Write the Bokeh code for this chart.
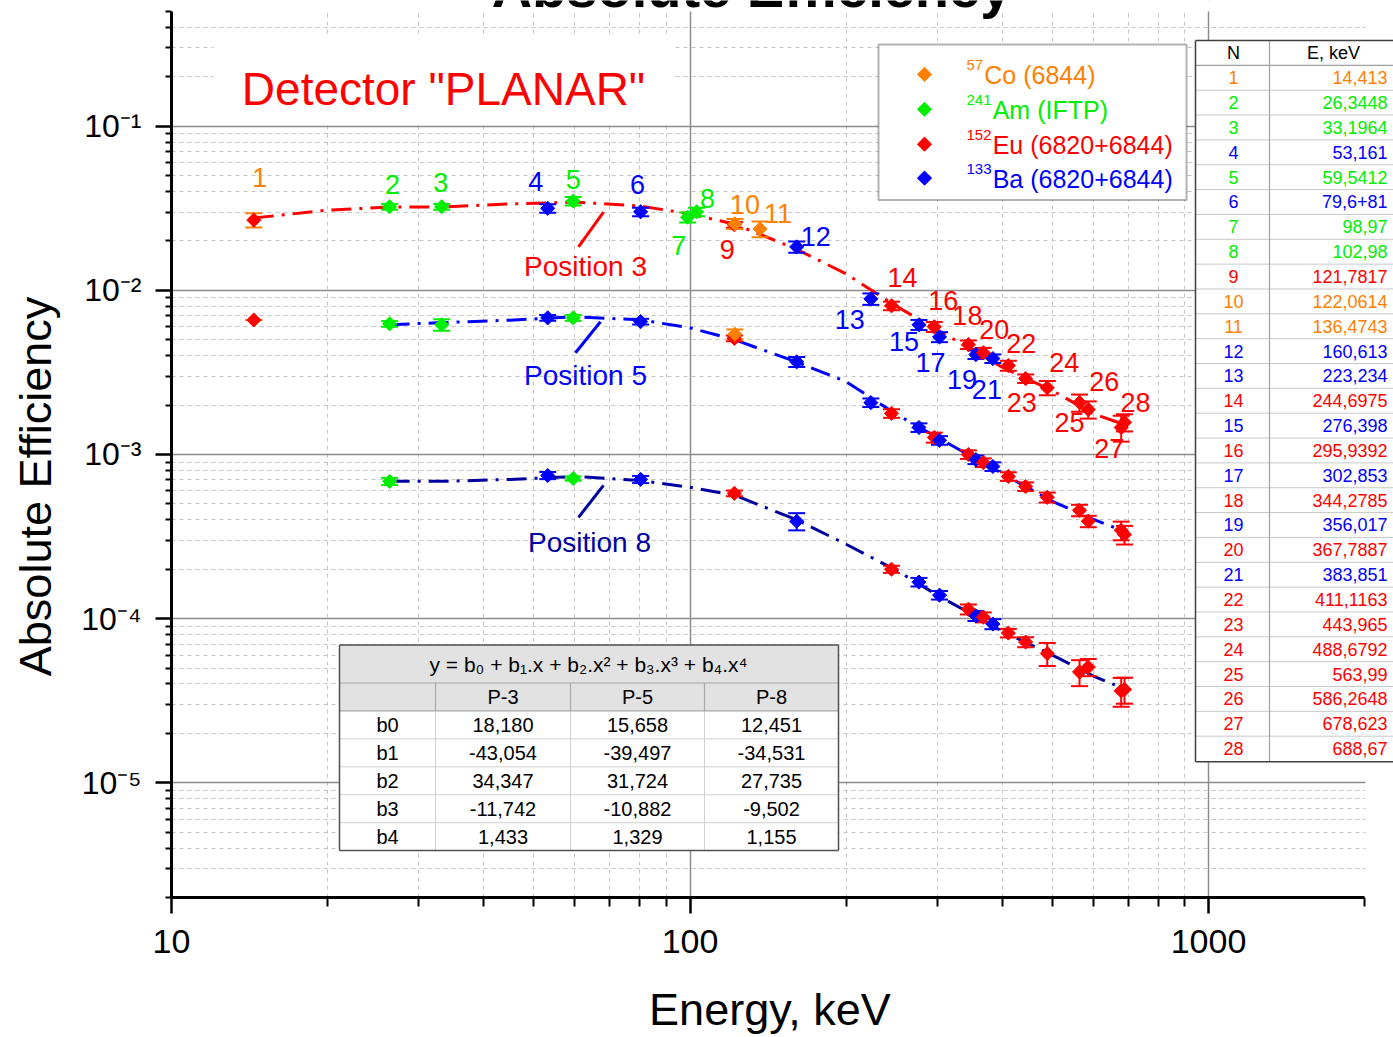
import math
from bokeh.plotting import figure
from bokeh.models import (Range1d, FixedTicker, CustomJSTickFormatter, Label, LabelSet,
                          ColumnDataSource, BoxAnnotation, Arrow)
from bokeh.core.properties import value
from bokeh.embed import file_html
from bokeh.resources import INLINE

# ---------------- data ----------------
point_numbers = [str(i) for i in range(1, 29)]
energies = [14.413, 26.3448, 33.1964, 53.161, 59.5412, 80.3, 98.97, 102.98, 121.7817,
            122.0614, 136.4743, 160.613, 223.234, 244.6975, 276.398, 295.9392, 302.853,
            344.2785, 356.017, 367.7887, 383.851, 411.1163, 443.965, 488.6792, 563.99,
            586.2648, 678.623, 688.67]
energy_text = ["14,413", "26,3448", "33,1964", "53,161", "59,5412", "79,6+81", "98,97",
               "102,98", "121,7817", "122,0614", "136,4743", "160,613", "223,234",
               "244,6975", "276,398", "295,9392", "302,853", "344,2785", "356,017",
               "367,7887", "383,851", "411,1163", "443,965", "488,6792", "563,99",
               "586,2648", "678,623", "688,67"]
sources = ["Co", "Am", "Am", "Ba", "Am", "Ba", "Am", "Am", "Eu", "Co", "Co", "Ba", "Ba", "Eu",
           "Ba", "Eu", "Ba", "Eu", "Ba", "Eu", "Ba", "Eu", "Eu", "Eu", "Eu", "Eu", "Eu", "Eu"]
marker_sources = ["Eu"] + sources[1:]
source_colors = {"Co": "#FF8000", "Am": "#00EE00", "Eu": "#FF0000", "Ba": "#0000FF"}

# efficiency, position 3 / 5 / 8 (None = not measured) and relative errors (%)
eff_p3 = [0.0268, 0.0323, 0.0323, 0.0316, 0.0350, 0.0301, 0.0279, 0.0301, 0.0251, 0.0254,
          0.0237, 0.0184, 0.00887, 0.00805, 0.00617, 0.0060, 0.0052, 0.00467, 0.00406,
          0.00417, 0.00384, 0.00348, 0.0029, 0.00255, 0.00207, 0.00188, 0.00146, 0.00157]
err_p3 = [10, 4, 4, 6, 6, 6, 7, 6, 4, 7, 11, 8, 8, 6, 7, 7, 7, 6, 6, 7, 6, 7, 6, 10, 12, 12, 18, 12]
eff_p5 = [0.0066, 0.00625, 0.00617, 0.0068, 0.0068, 0.00645, None, None, 0.0051, 0.0054,
          None, 0.00367, 0.00207, 0.00178, 0.00146, 0.00127, 0.00122, 0.0010, 0.00093,
          0.000893, 0.000845, 0.000735, 0.000638, 0.000548, 0.000457, 0.000392, 0.000345,
          0.000325]
err_p5 = [0, 4, 8, 4, 4, 4, 0, 0, 4, 7, 0, 7, 6, 6, 6, 7, 6, 6, 6, 6, 6, 6, 6, 7, 8, 8, 13, 13]
eff_p8 = [None, 0.000686, None, 0.000745, 0.000714, 0.000705, None, None, 0.00058, None,
          None, 0.000392, None, 0.0002, 0.000167, None, 0.000139, 0.000114, 0.000104,
          0.000102, 0.0000927, 0.0000817, 0.000072, 0.0000613, 0.0000473, 0.0000507,
          0.0000363, 0.000037]
err_p8 = [0, 5, 0, 5, 3, 5, 0, 0, 4, 0, 0, 12, 0, 5, 6, 0, 6, 7, 7, 7, 7, 6, 7, 16, 18, 12, 20, 18]

# fitted curves
curve_energy = [14.413, 20, 26.3448, 33.1964, 45, 60, 80, 100, 122, 160, 200, 250, 300,
                400, 500, 600, 688.67]
curve_p3 = [0.0276, 0.0308, 0.0322, 0.0322, 0.0336, 0.0345, 0.0327, 0.0292, 0.0253, 0.0179,
            0.0126, 0.0080, 0.00575, 0.0034, 0.00245, 0.00177, 0.00152]
curve_p5 = [None, None, 0.00617, 0.00636, 0.00658, 0.0069, 0.00662, 0.00591, 0.0050,
            0.00367, 0.00278, 0.00176, 0.00127, 0.000766, 0.000518, 0.000402, 0.00034]
curve_p8 = [None, None, 0.000686, 0.000686, 0.000705, 0.000735, 0.000695, 0.000631,
            0.000564, 0.000402, 0.000284, 0.000197, 0.000139, 0.0000839, 0.00006,
            0.0000447, 0.0000373]

coef_rows = ["b0", "b1", "b2", "b3", "b4"]
coef_cols = ["P-3", "P-5", "P-8"]
coef_p3 = ["18,180", "-43,054", "34,347", "-11,742", "1,433"]
coef_p5 = ["15,658", "-39,497", "31,724", "-10,882", "1,329"]
coef_p8 = ["12,451", "-34,531", "27,735", "-9,502", "1,155"]

legend_mass = ["57", "241", "152", "133"]
legend_names = ["Co (6844)", "Am (IFTP)", "Eu (6820+6844)", "Ba (6820+6844)"]
legend_src = ["Co", "Am", "Eu", "Ba"]

x_major = [10, 100, 1000]
x_minor = [m * 10 ** k for k in (1, 2) for m in range(2, 10)] + [2000]
y_decades = [-5, -4, -3, -2, -1]
y_minor = [m * 10.0 ** k for k in range(-6, 0) for m in range(2, 10) if m * 10.0 ** k < 0.45]

# ---------------- layout helpers (pixel -> data for annotations) ----------------
FONT = "Liberation Sans"
X0, XDEC = 171.0, 518.5
Y0, YDEC = 126.0, 164.5


def xd(px):
    return 10 ** (1 + (px - X0) / XDEC)


def yd(py):
    return 10 ** (-1 - (py - Y0) / YDEC)


p = figure(width=1393, height=1037, x_axis_type="log", y_axis_type="log",
           x_range=Range1d(10, xd(1393)), y_range=Range1d(2e-6, yd(0)),
           output_backend="svg", toolbar_location=None,
           min_border_left=171, min_border_right=0, min_border_top=0, min_border_bottom=138)
p.outline_line_color = None
p.background_fill_color = "white"
p.border_fill_color = "white"

# axes
p.xaxis.ticker = FixedTicker(ticks=x_major, minor_ticks=x_minor)
p.yaxis.ticker = FixedTicker(ticks=[10.0 ** k for k in y_decades], minor_ticks=y_minor + [0.5])
p.xgrid.ticker = FixedTicker(ticks=x_major, minor_ticks=x_minor[:-1])
p.ygrid.ticker = FixedTicker(ticks=[10.0 ** k for k in y_decades], minor_ticks=y_minor)
p.xaxis.bounds = (10, 2000)
p.yaxis.bounds = (2e-6, 0.5)
p.xaxis.formatter = CustomJSTickFormatter(code="return tick.toFixed(0);")
p.yaxis.formatter = CustomJSTickFormatter(code="""
const e = Math.round(Math.log10(tick));
const sup = {'-': '\u207b', '0': '\u2070', '1': '\u00b9', '2': '\u00b2', '3': '\u00b3',
             '4': '\u2074', '5': '\u2075', '6': '\u2076', '7': '\u2077', '8': '\u2078', '9': '\u2079'};
return '10' + String(e).split('').map(c => sup[c]).join('');
""")
for ax in (p.xaxis[0], p.yaxis[0]):
    ax.axis_line_width = 3
    ax.axis_line_color = "black"
    ax.major_tick_line_width = 2.5
    ax.minor_tick_line_width = 2
    ax.major_tick_in = 0
    ax.minor_tick_in = 0
    ax.major_tick_out = 16
    ax.axis_label_text_font = FONT
    ax.axis_label_text_font_size = "45px"
    ax.axis_label_text_font_style = "normal"
    ax.axis_label_text_color = "black"
    ax.major_label_text_font = FONT
    ax.major_label_text_color = "black"
p.xaxis.minor_tick_out = 9
p.yaxis.minor_tick_out = 6
p.xaxis.major_label_text_font_size = "34px"
p.xaxis.major_label_standoff = 16
# trailing no-break spaces shift the visible caption off the frame centre, as in the original
p.xaxis.axis_label = "Energy, keV" + "\u00a0" * 2
p.xaxis.axis_label_standoff = 28
p.yaxis.major_label_text_font_size = "32px"
p.yaxis.major_label_standoff = 14
p.yaxis.axis_label = "Absolute Efficiency" + "\u00a0" * 6
p.yaxis.axis_label_standoff = 17

for g in (p.xgrid[0], p.ygrid[0]):
    g.grid_line_color = "#8c8c8c"
    g.grid_line_width = 1.5
    g.minor_grid_line_color = "#c4c4c4"
    g.minor_grid_line_dash = "4 4"
    g.minor_grid_line_width = 1


def lab(px, py, text, size, color="black", align="center", baseline="middle", style="normal", angle=0.0):
    p.add_layout(Label(x=xd(px), y=yd(py), text=text, text_font=FONT, text_font_size=f"{size}px",
                       text_color=color, text_align=align, text_baseline=baseline,
                       text_font_style=style, angle=angle))


def box(l, r, t, b, fill, line=None, width=1.0):
    p.add_layout(BoxAnnotation(left=xd(l), right=xd(r), top=yd(t), bottom=yd(b),
                               fill_color=fill, fill_alpha=1.0, line_color=line, line_width=width,
                               level="underlay"))


def lines(segs, color, width):
    src = ColumnDataSource(dict(x0=[xd(s[0]) for s in segs], y0=[yd(s[1]) for s in segs],
                                x1=[xd(s[2]) for s in segs], y1=[yd(s[3]) for s in segs]))
    p.add_layout(Arrow(start=None, end=None, x_start="x0", y_start="y0", x_end="x1", y_end="y1",
                       source=src, line_color=color, line_width=width))


# white strips that hide the grid above the plotted range / right of the x axis end
box(171, 1393, 0, 11, "white")
box(1365, 1393, 0, 1037, "white")

# title (cut off at top of page, as in the original)
lab(751, -13, "Absolute Efficiency", 56, style="bold")

# white box behind the detector caption
box(213, 672, 35, 124, "white")
lab(443, 89, 'Detector "PLANAR"', 46, color="#FF0000")

# ---------------- curves ----------------
curve_styles = [(curve_p3, "#FF0000"), (curve_p5, "#0000FF"), (curve_p8, "#0000A0")]
for vals, col in curve_styles:
    xs = [e for e, v in zip(curve_energy, vals) if v is not None]
    ys = [v for v in vals if v is not None]
    p.line(xs, ys, line_color=col, line_width=3, line_dash="20 8 3 8")

# ---------------- points with error bars ----------------
for vals, errs in ((eff_p3, err_p3), (eff_p5, err_p5), (eff_p8, err_p8)):
    idx = [i for i, v in enumerate(vals) if v is not None]
    xs = [energies[i] for i in idx]
    ys = [vals[i] for i in idx]
    lo = [vals[i] * (1 - errs[i] / 100.0) for i in idx]
    hi = [vals[i] * (1 + errs[i] / 100.0) for i in idx]
    ecol = [source_colors[sources[i]] for i in idx]
    mcol = [source_colors[marker_sources[i]] for i in idx]
    p.segment(x0=xs, y0=lo, x1=xs, y1=hi, line_color=ecol, line_width=2)
    p.scatter(xs + xs, lo + hi, marker="dash", size=17, line_color=ecol + ecol, line_width=2)
    p.scatter(xs, ys, marker="square", angle=math.pi / 4, size=10, fill_color=mcol, line_color=mcol)

# point numbers (offset in px from the position-3 point)
num_dx = [6, 3, -1, -12, 0, -3, -9, 11, -7, 10, 18, 19, -21, 11, -15, 9, -9, -1, -14, 11, -6, 13, -4, 17, -10, 16, -12, 11]
num_dy = [-43, -22, -24, -27, -22, -27, 28, -13, 25, -19, -15, -10, 21, -28, 17, -26, 26, -29, 25, -23, 31, -22, 24, -25, 20, -28, 21, -20]
p.text(x=[e * 10 ** (dx / XDEC) for e, dx in zip(energies, num_dx)],
       y=[v * 10 ** (-dy / YDEC) for v, dy in zip(eff_p3, num_dy)],
       text=point_numbers, text_color=[source_colors[s] for s in sources],
       text_font=value(FONT), text_font_size=value("27px"),
       text_align="center", text_baseline="middle")

# position captions with pointer lines
p.segment(x0=[xd(578), xd(575), xd(578)], y0=[yd(247), yd(353), yd(518)],
          x1=[xd(603), xd(600), xd(603)], y1=[yd(212), yd(322), yd(486)],
          line_color=["#FF0000", "#0000FF", "#0000A0"], line_width=3)
lab(585, 267, "Position 3", 28, color="#FF0000")
lab(585, 376, "Position 5", 28, color="#0000FF")
lab(589, 543, "Position 8", 28, color="#0000A0")

# ---------------- legend ----------------
box(878, 1186, 44, 200, "white", line="black", width=2)
leg_rows = [74, 109, 144, 178]
p.scatter([xd(924)] * 4, [yd(r) for r in leg_rows], marker="square", angle=math.pi / 4, size=10,
          fill_color=[source_colors[s] for s in legend_src],
          line_color=[source_colors[s] for s in legend_src])
for r, m, n, s in zip(leg_rows, legend_mass, legend_names, legend_src):
    c = source_colors[s]
    lab(966, r - 9, m, 15, color=c, align="left")
    lab(966 + 8.4 * len(m) + 1, r + 1, n, 25, color=c, align="left")

# ---------------- right table (N, E) ----------------
box(1195, 1400, 40, 763, "white")
row_h = 24.9
row_c = [77.4 + i * row_h for i in range(28)]
lines([(1195, 65 + i * row_h, 1400, 65 + i * row_h) for i in range(1, 28)], "#c8c8c8", 1)
lines([(1195, 65, 1400, 65), (1269, 40, 1269, 763)], "#a0a0a0", 1.2)
lines([(1195, 40, 1400, 40), (1195, 40, 1195, 763), (1195, 763, 1400, 763)], "#404040", 1.5)
lab(1233, 53, "N", 18)
lab(1333, 53, "E, keV", 18)
tab_src = ColumnDataSource(dict(
    xn=[xd(1233)] * 28, xe=[xd(1387)] * 28, y=[yd(c) for c in row_c],
    n=point_numbers, e=energy_text, color=[source_colors[s] for s in sources]))
p.add_layout(LabelSet(x="xn", y="y", text="n", source=tab_src, text_color="color",
                      text_font=value(FONT), text_font_size=value("18px"),
                      text_align="center", text_baseline="middle"))
p.add_layout(LabelSet(x="xe", y="y", text="e", source=tab_src, text_color="color",
                      text_font=value(FONT), text_font_size=value("18px"),
                      text_align="right", text_baseline="middle"))

# ---------------- coefficient table ----------------
cx = [339, 435, 570, 704, 838]
box(339, 838, 646, 712, "#e2e2e2")
box(339, 838, 712, 852, "white")
lines([(339, 740 + 28 * i, 838, 740 + 28 * i) for i in range(4)] +
      [(x, 712, x, 852) for x in cx[1:4]], "#d0d0d0", 1)
lines([(339, 684, 838, 684), (339, 712, 838, 712)] + [(x, 684, x, 712) for x in cx[1:4]],
      "#a8a8a8", 1.2)
lines([(339, 646, 838, 646), (339, 852, 838, 852), (339, 646, 339, 852), (838, 646, 838, 852)],
      "#505050", 1.5)
lab(588, 665, "y = b\u2080 + b\u2081.x + b\u2082.x\u00b2 + b\u2083.x\u00b3 + b\u2084.x\u2074", 21)
col_c = [(cx[i] + cx[i + 1]) / 2 for i in range(1, 4)]
for c, name in zip(col_c, coef_cols):
    lab(c, 698, name, 20)
for i, name in enumerate(coef_rows):
    yy = 726 + 28 * i
    lab(387, yy, name, 20)
    for c, col in zip(col_c, (coef_p3, coef_p5, coef_p8)):
        lab(c, yy, col[i], 20)

open("out.html", "w").write(file_html(p, INLINE))
